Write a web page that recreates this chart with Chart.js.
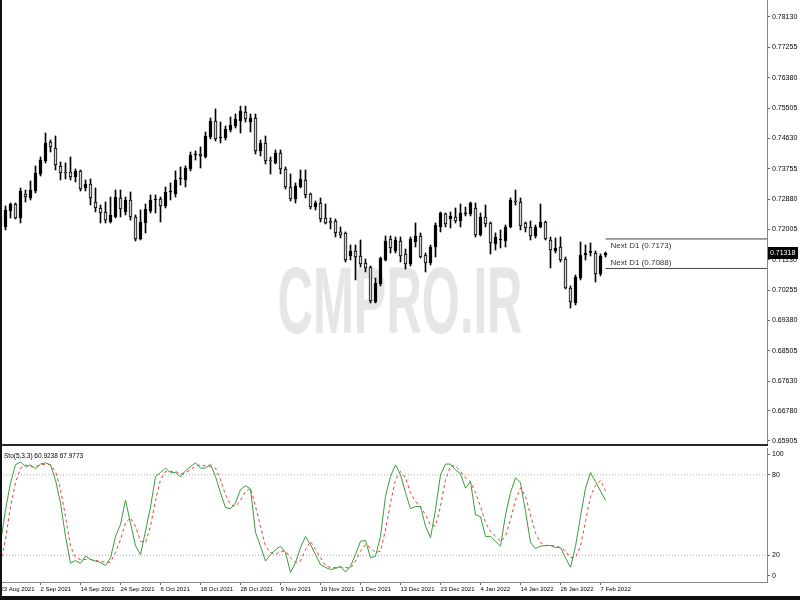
<!DOCTYPE html>
<html>
<head>
<meta charset="utf-8">
<script src="https://cdn.jsdelivr.net/npm/chart.js@4.4.1/dist/chart.umd.min.js"></script>
<style>
  body { margin: 0; background: #fff; }
  #wrap { position: relative; width: 800px; height: 600px; overflow: hidden; background: #fff; }
  #priceBox { position: absolute; left: 0; top: 0; }
  #stoBox { position: absolute; left: 0; top: 446px; }
  #sep { position: absolute; left: 0; top: 444px; width: 768px; height: 2px; background: #2a2a2a; }
  #edgeL { position: absolute; left: 0; top: 0; width: 2px; height: 600px; background: #111; }
  #edgeB { position: absolute; left: 0; top: 596px; width: 800px; height: 4px; background: #111; }
</style>
</head>
<body>
<div id="wrap">
  <canvas id="priceBox" width="800" height="444"></canvas>
  <div id="sep"></div>
  <canvas id="stoBox" width="800" height="150"></canvas>
  <div id="edgeL"></div>
  <div id="edgeB"></div>
</div>
<script>
// AUDUSD daily, 23 Aug 2021 .. 8 Feb 2022 (one entry per bar)
const opens = [0.72393,0.72076,0.72537,0.72739,0.72335,0.73027,0.72912,0.73113,0.73604,0.73978,
  0.74526,0.74353,0.73834,0.73661,0.73661,0.73517,0.73690,0.73200,0.73315,0.72796,
  0.72623,0.72508,0.72220,0.72364,0.72912,0.72508,0.72854,0.72364,0.71730,0.72191,
  0.72537,0.72854,0.72883,0.72681,0.73085,0.73027,0.73460,0.73431,0.73748,0.74151,
  0.74180,0.74094,0.74670,0.75132,0.74641,0.74641,0.74872,0.74987,0.75132,0.75391,
  0.75103,0.75218,0.74267,0.74497,0.74007,0.73921,0.74209,0.73748,0.73229,0.72883,
  0.73229,0.73431,0.73027,0.72652,0.72768,0.72335,0.72220,0.72249,0.71934,0.71903,
  0.71239,0.71383,0.71239,0.71038,0.70922,0.69913,0.70432,0.71124,0.71730,0.71383,
  0.71672,0.71297,0.71010,0.71643,0.71816,0.71268,0.71038,0.71499,0.72076,0.72451,
  0.72306,0.72364,0.72249,0.72451,0.72451,0.72623,0.71845,0.72364,0.72191,0.71585,
  0.71701,0.71672,0.72076,0.72825,0.72796,0.72191,0.72076,0.71816,0.72076,0.72220,
  0.71701,0.71383,0.71499,0.71153,0.70317,0.69885,0.70605,0.71268,0.71341,0.71326,
  0.70720,0.71260];
const highs = [0.72508,0.72681,0.72768,0.72768,0.73200,0.73142,0.73402,0.73834,0.74094,0.74786,
  0.74584,0.74699,0.73950,0.73921,0.74094,0.73748,0.73719,0.73431,0.73460,0.73200,
  0.72710,0.72796,0.72940,0.73142,0.73142,0.72940,0.73085,0.72422,0.72566,0.72739,
  0.72998,0.72998,0.72940,0.73229,0.73344,0.73690,0.73806,0.73834,0.74238,0.74267,
  0.74382,0.74814,0.75218,0.75478,0.75103,0.74987,0.75247,0.75334,0.75560,0.75560,
  0.75334,0.75334,0.74584,0.74699,0.74094,0.74296,0.74296,0.73806,0.73604,0.73344,
  0.73719,0.73719,0.73056,0.72825,0.72912,0.72739,0.72335,0.72306,0.72076,0.71932,
  0.71557,0.71557,0.71701,0.71153,0.70951,0.70605,0.71210,0.71816,0.71816,0.71787,
  0.71787,0.71441,0.71787,0.72191,0.71903,0.71326,0.71557,0.72191,0.72508,0.72479,
  0.72508,0.72623,0.72739,0.72652,0.72796,0.72768,0.72479,0.72710,0.72220,0.71903,
  0.71989,0.72133,0.72912,0.73142,0.72912,0.72220,0.72249,0.72133,0.72739,0.72249,
  0.71787,0.71758,0.71787,0.71210,0.70375,0.70692,0.71643,0.71557,0.71614,0.71383,
  0.71297,0.71355];
const lows = [0.71989,0.71989,0.72335,0.72306,0.72191,0.72796,0.72854,0.73056,0.73546,0.73921,
  0.74238,0.73719,0.73431,0.73460,0.73431,0.73373,0.73113,0.73113,0.72710,0.72508,
  0.72191,0.72191,0.72191,0.72335,0.72364,0.72422,0.72274,0.71672,0.71701,0.71903,
  0.72479,0.72479,0.72220,0.72623,0.72854,0.72940,0.73286,0.73229,0.73690,0.74007,
  0.73777,0.74065,0.74613,0.74555,0.74497,0.74584,0.74814,0.74930,0.74786,0.75103,
  0.74814,0.74180,0.74123,0.73892,0.73604,0.73892,0.73604,0.73171,0.72825,0.72768,
  0.73200,0.72912,0.72594,0.72566,0.72220,0.72162,0.72018,0.71787,0.71758,0.71067,
  0.71124,0.70548,0.70922,0.70778,0.69885,0.69885,0.70375,0.71095,0.71326,0.71326,
  0.71067,0.70865,0.70951,0.71499,0.71182,0.70778,0.70980,0.71210,0.71932,0.72076,
  0.72047,0.72191,0.72076,0.72393,0.72393,0.71787,0.71816,0.72076,0.71297,0.71412,
  0.71470,0.71499,0.72047,0.72710,0.71989,0.71932,0.71701,0.71758,0.72047,0.71701,
  0.70894,0.71326,0.71067,0.70288,0.69740,0.69827,0.70548,0.71124,0.71239,0.70490,
  0.70663,0.71210];
const closes = [0.72104,0.72566,0.72739,0.72335,0.73113,0.72940,0.73142,0.73632,0.74007,0.74497,
  0.74382,0.73863,0.73632,0.73632,0.73517,0.73690,0.73171,0.73315,0.72912,0.72623,
  0.72479,0.72274,0.72422,0.72940,0.72594,0.72854,0.72364,0.71730,0.72220,0.72594,
  0.72854,0.72883,0.72681,0.73085,0.73113,0.73431,0.73488,0.73777,0.74151,0.74180,
  0.74123,0.74699,0.75132,0.74613,0.74670,0.74901,0.75016,0.75189,0.75420,0.75189,
  0.75218,0.74267,0.74497,0.73978,0.73978,0.74209,0.73748,0.73229,0.72883,0.73258,
  0.73460,0.72998,0.72652,0.72768,0.72306,0.72191,0.72200,0.71903,0.71845,0.71124,
  0.71383,0.71210,0.71010,0.70894,0.69942,0.70461,0.71182,0.71672,0.71470,0.71701,
  0.71239,0.71010,0.71730,0.71816,0.71210,0.71038,0.71499,0.72133,0.72479,0.72162,
  0.72393,0.72249,0.72479,0.72479,0.72768,0.71845,0.72364,0.72162,0.71614,0.71787,
  0.71730,0.72076,0.72854,0.72796,0.72104,0.72047,0.71816,0.72076,0.72220,0.71730,
  0.71412,0.71470,0.71124,0.70317,0.69913,0.70634,0.71268,0.71326,0.71355,0.70720,
  0.71239,0.71318];

// Stochastic (5,3,3): main %K and signal %D
const stoK = [29,54,74,87.5,89.6,86,87.4,84.5,88,89,
  87.4,76,59,34,14,16,14,19.3,16.8,15.6,
  14.5,12.3,18,34,43,61,44,27,20.5,38,
  56,78.7,81.7,85,81.5,81.7,78.5,83,86,89,
  85,85,88,78.7,66.6,55.5,54.7,59,69,71.8,
  69.5,37,26.7,15.6,20.5,24.2,26.7,22,7.1,14.5,
  25.7,34,28,20.5,13,10.8,9.4,10,11.8,7.4,
  11.8,20.5,30.4,31,18,19.3,34,64,78.7,87.4,
  80,66.6,54.7,56.4,56.4,41.6,33,54,80,88,
  88,83.7,80.7,70,75,50,48.8,34,34,30.4,
  26.7,50,66.6,77.8,74,52.7,29.4,25,26.7,27.2,
  27.2,25.7,25.7,18,11,26.7,49,70,81.7,74.8,
  67.9,60.9238];
const stoD = [14.5,31.7,56,74,85,87.4,86,86,87.4,88,
  87.4,82.5,69,49,26.7,18.3,16.8,16.8,16.8,16,
  15.6,14.5,14.8,22,31.7,44,48,41.6,30.4,29.4,
  41.6,61,76.3,82.5,82.5,82.5,80.7,81.5,83.7,86.6,
  87.4,86.6,86,85,76.3,65,57.7,56.4,61,67.6,
  70,56.4,41.6,26.7,22,20.5,23,23,18,14.5,
  15.6,24.2,30.4,24.2,18,12.3,10.8,10.8,10.8,10.8,
  10.3,15.6,23,28,25.5,22,23,39,59,76.3,
  82.5,77.8,66.6,60,56.4,50,42.8,41.6,56.4,76.3,
  86.6,86.6,82.5,77.8,75,66.6,56.4,44.3,37.8,34,
  30.4,34,46.5,61,70.3,63.9,50,36.6,29.4,27.2,
  27.2,26.7,25.7,23,18.3,18.3,26.7,45.3,63.9,72,
  75.8,67.9773];

const dateTicks = [0,8,16,24,32,40,48,56,64,72,80,88,96,104,112,120];
const dateLabels = ['23 Aug 2021','2 Sep 2021','14 Sep 2021','24 Sep 2021','6 Oct 2021','18 Oct 2021',
  '28 Oct 2021','9 Nov 2021','19 Nov 2021','1 Dec 2021','13 Dec 2021','23 Dec 2021',
  '4 Jan 2022','14 Jan 2022','26 Jan 2022','7 Feb 2022'];
const priceTicks = [0.78130,0.77255,0.76380,0.75505,0.74630,0.73755,0.72880,0.72005,
  0.71130,0.70255,0.69380,0.68505,0.67630,0.66780,0.65905];
const stoLevels = [100, 80, 20, 0];
const signalLevels = [80, 20];
const nextD1 = [0.7173, 0.7088];
const watermark = 'CMPRO.IR';

// visible window: 5px per bar, chart shifted right
const X_MIN = -0.1, X_MAX = 153.3;
const SANS = '"Liberation Sans", Arial, sans-serif';

// MT4 text is narrow; use Liberation Sans Narrow when the machine has it
function hasFont(name) {
  const c = document.createElement('canvas').getContext('2d');
  c.font = '20px monospace';
  const a = c.measureText('0.78130 Sep').width;
  c.font = '20px "' + name + '", monospace';
  return c.measureText('0.78130 Sep').width !== a;
}
const narrowOk = hasFont('Liberation Sans Narrow');
const LABEL = narrowOk ? '"Liberation Sans Narrow", ' + SANS : SANS;
const fs = narrowOk ? { axis: 8, date: 7.3, head: 7.2, box: 8 } : { axis: 7, date: 6, head: 6.5, box: 7 };

Chart.defaults.font.family = LABEL;
Chart.defaults.color = '#000';

const bull = '#000000', bear = '#ddd0d0';
const idx = opens.map((_, i) => i);
const wickData = idx.map(i => ({ x: i, y: [lows[i], highs[i]] }));
const bodyData = idx.map(i => ({ x: i, y: [opens[i], closes[i]] }));
const bodyColors = idx.map(i => closes[i] >= opens[i] ? bull : bear);
const lastIdx = opens.length - 1;

const priceDecor = {
  id: 'priceDecor',
  beforeDatasetsDraw(chart) {
    const ctx = chart.ctx;
    ctx.save();
    ctx.font = 'bold 95px ' + LABEL;
    const w = ctx.measureText(watermark).width;
    ctx.translate(400, 333);
    ctx.scale(245 / w, 1);
    ctx.fillStyle = '#e6e6e6';
    ctx.textAlign = 'center';
    ctx.fillText(watermark, 0, 0);
    ctx.restore();
  },
  afterDraw(chart) {
    const { ctx, scales: { x, y } } = chart;
    ctx.save();
    ctx.font = '8px ' + SANS;
    ctx.fillStyle = '#333';
    ctx.textBaseline = 'middle';
    const tx = x.getPixelForValue(lastIdx) + 5;
    ctx.fillText('Next D1 (' + nextD1[0].toFixed(4) + ')', tx, y.getPixelForValue(nextD1[0]) + 7);
    ctx.fillText('Next D1 (' + nextD1[1].toFixed(4) + ')', tx, y.getPixelForValue(nextD1[1]) - 6);
    // last price marker on the axis
    const last = closes[lastIdx];
    const py = Math.round(y.getPixelForValue(last));
    ctx.fillStyle = '#000';
    ctx.fillRect(y.left + 1, py - 6, 30, 12);
    ctx.fillStyle = '#fff';
    ctx.font = fs.box + 'px ' + LABEL;
    ctx.fillText(last.toFixed(5), y.left + 3, py);
    ctx.restore();
  }
};

new Chart(document.getElementById('priceBox'), {
  type: 'bar',
  data: {
    datasets: [
      { data: wickData, backgroundColor: '#000', barThickness: 1, grouped: false, order: 2 },
      { data: bodyData, backgroundColor: bodyColors, borderColor: '#000', borderWidth: 1,
        borderSkipped: false, barThickness: 3, minBarLength: 1, grouped: false, order: 1 },
      { type: 'line', data: [{ x: lastIdx, y: nextD1[0] }, { x: X_MAX, y: nextD1[0] }],
        borderColor: '#444', borderWidth: 1, pointRadius: 0 },
      { type: 'line', data: [{ x: lastIdx, y: nextD1[1] }, { x: X_MAX, y: nextD1[1] }],
        borderColor: '#444', borderWidth: 1, pointRadius: 0 }
    ]
  },
  options: {
    responsive: false,
    animation: false,
    layout: { padding: 0 },
    plugins: { legend: { display: false }, tooltip: { enabled: false } },
    scales: {
      x: { type: 'linear', min: X_MIN, max: X_MAX, offset: false, display: false },
      y: {
        position: 'right', min: 0.65818, max: 0.78620,
        afterBuildTicks: s => { s.ticks = priceTicks.map(v => ({ value: v })); },
        afterFit: s => { s.width = 33; s.paddingTop = 0; s.paddingBottom = 0; },
        ticks: { callback: v => v.toFixed(5), font: { size: fs.axis }, padding: 2 },
        grid: { drawOnChartArea: false, tickLength: 3, color: '#666' },
        border: { color: '#888' }
      }
    }
  },
  plugins: [priceDecor]
});

const stoDecor = {
  id: 'stoDecor',
  afterDraw(chart) {
    const { ctx, chartArea } = chart;
    ctx.save();
    ctx.font = fs.head + 'px ' + LABEL;
    ctx.fillStyle = '#000';
    ctx.textBaseline = 'middle';
    ctx.fillText('Sto(5,3,3) ' + stoK[lastIdx].toFixed(4) + ' ' + stoD[lastIdx].toFixed(4), 4, chartArea.top + 8);
    ctx.restore();
  }
};

new Chart(document.getElementById('stoBox'), {
  type: 'line',
  data: {
    datasets: [
      { data: idx.map(i => ({ x: i, y: stoK[i] })), borderColor: '#3b9b3b', borderWidth: 1,
        pointRadius: 0, tension: 0, order: 1 },
      { data: idx.map(i => ({ x: i, y: stoD[i] })), borderColor: '#e83a3a', borderWidth: 1,
        borderDash: [3, 3], pointRadius: 0, tension: 0, order: 2 },
      ...signalLevels.map(l => ({ data: [{ x: X_MIN, y: l }, { x: X_MAX, y: l }],
        borderColor: '#a8a8a8', borderWidth: 1, borderDash: [1, 2], pointRadius: 0, order: 3 }))
    ]
  },
  options: {
    responsive: false,
    animation: false,
    layout: { padding: { top: 2 } },
    plugins: { legend: { display: false }, tooltip: { enabled: false } },
    scales: {
      x: {
        type: 'linear', min: X_MIN, max: X_MAX, offset: false,
        afterBuildTicks: s => { s.ticks = dateTicks.map(v => ({ value: v })); },
        afterFit: s => { s.height = 14; s.paddingLeft = 0; s.paddingRight = 0; },
        ticks: { callback: (v, i) => dateLabels[i], align: 'start', autoSkip: false,
          maxRotation: 0, font: { size: fs.date }, padding: 1 },
        grid: { drawOnChartArea: false, tickLength: 3, color: '#666' },
        border: { color: '#888' }
      },
      y: {
        position: 'right', min: 0, max: 100,
        // MT4 pulls the 100 and 0 captions inward
        afterBuildTicks: s => { s.ticks = stoLevels.map(v => ({ value: v === 100 ? 95.5 : v === 0 ? 4.5 : v })); },
        afterFit: s => { s.width = 33; s.paddingTop = 0; s.paddingBottom = 0; },
        ticks: { callback: (v, i) => String(stoLevels[i]), font: { size: fs.axis }, padding: 2 },
        grid: { drawOnChartArea: false, tickLength: 3, color: '#666' },
        border: { color: '#888' }
      }
    }
  },
  plugins: [stoDecor]
});
</script>
</body>
</html>
